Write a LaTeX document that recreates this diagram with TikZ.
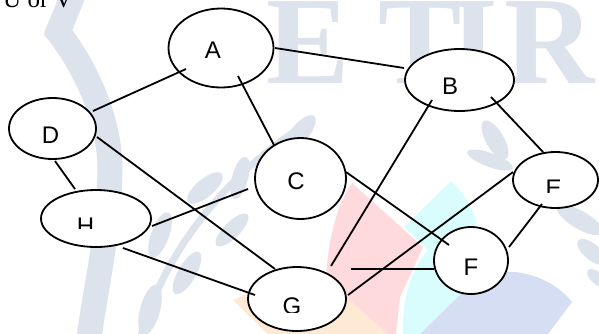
\documentclass[tikz,border=0pt]{standalone}
\usepackage{fontspec}
\setmainfont{Liberation Sans}
\newfontfamily\serifwm{Liberation Serif}
\usetikzlibrary{shapes.geometric,calc}
\definecolor{wm}{HTML}{DDE3EC}
\definecolor{pinkwm}{HTML}{FFDADD}
\definecolor{cyanwm}{HTML}{D9FDFD}
\definecolor{lavwm}{HTML}{D6DEF4}
\definecolor{peachwm}{HTML}{FDE9D4}
\begin{document}
\begin{tikzpicture}[x=1pt,y=-1pt,
  vtx/.style={ellipse,draw=black,fill=white,line width=1.8pt,inner sep=0pt},
  edge/.style={line width=1.8pt,black},
  lbl/.style={anchor=base,inner sep=0pt,font=\fontsize{24}{24}\selectfont},
  leaf/.style={fill=wm,draw=none},
  wmletter/.style={anchor=base,inner sep=0pt,text=wm,font=\serifwm\bfseries\fontsize{125}{125}\selectfont}]
\useasboundingbox (0,0) rectangle (599,333);
\clip (0,0) rectangle (599,333);
\fill[white] (0,0) rectangle (599,333);
% watermark: letters
\node[wmletter] (wE) at (308,83) {E};
\node[wmletter] (wT) at (420,83) {T};
\node[wmletter] (wI) at (474,83) {I};
\node[wmletter] (wR) at (550,83) {R};
% watermark: band
\draw[wm,line width=25pt] (75,-10) -- (58,32) .. controls (80,60) and (108,110) .. (110,165) .. controls (110,230) and (95,290) .. (88,345);
% watermark: leaves
\draw[wm,line width=7pt] (140,340) .. controls (160,260) and (220,180) .. (300,128);
\fill[leaf,rotate around={50:(300,133)}] (300,133) ellipse [x radius=22pt,y radius=9pt];
\fill[leaf,rotate around={75:(240,178)}] (240,178) ellipse [x radius=22pt,y radius=8pt];
\fill[leaf,rotate around={40:(205,188)}] (205,188) ellipse [x radius=22pt,y radius=9pt];
\fill[leaf,rotate around={70:(160,235)}] (160,235) ellipse [x radius=24pt,y radius=9pt];
\fill[leaf,rotate around={45:(232,230)}] (232,230) ellipse [x radius=22pt,y radius=8pt];
\fill[leaf,rotate around={60:(187,273)}] (187,273) ellipse [x radius=24pt,y radius=9pt];
\fill[leaf,rotate around={75:(150,310)}] (150,310) ellipse [x radius=26pt,y radius=10pt];
\fill[leaf,rotate around={-60:(495,140)}] (495,140) ellipse [x radius=22pt,y radius=9pt];
\fill[leaf,rotate around={-20:(490,160)}] (490,160) ellipse [x radius=24pt,y radius=7pt];
\fill[leaf,rotate around={-30:(580,220)}] (580,220) ellipse [x radius=26pt,y radius=9pt];
\fill[leaf,rotate around={-40:(592,252)}] (592,252) ellipse [x radius=18pt,y radius=8pt];
\fill[leaf,rotate around={-40:(597,278)}] (597,278) ellipse [x radius=12pt,y radius=6pt];
% watermark: petals
\fill[cyanwm] (404,227) -- (451,181) .. controls (466,195) and (476,212) .. (478,232) -- (482,268) -- (436,334) -- (403,334) .. controls (402,300) and (410,270) .. (428,250) -- cycle;
\fill[pinkwm] (352,183) -- (423,247) -- (400,297) -- (396,334) -- (327,334) .. controls (322,270) and (330,215) .. (352,183) -- cycle;
\fill[lavwm] (420,334) -- (462,293) -- (490,274) .. controls (520,266) and (555,280) .. (572,302) -- (548,334) -- cycle;
\fill[peachwm] (233,300) -- (290,275) -- (337,289) -- (388,334) -- (268,334) -- cycle;
% caption fragment
\node[anchor=base west,inner sep=0pt,font=\serifwm\fontsize{25}{25}\selectfont] (uv) at (3,7.5) {U or V};
% vertices
\node[vtx,minimum width=105pt,minimum height=79pt] (A) at (221,48) {};
\node[vtx,minimum width=109pt,minimum height=62pt] (B) at (459.5,80) {};
\node[vtx,minimum width=91pt,minimum height=81pt] (C) at (300.5,178.5) {};
\node[vtx,minimum width=87pt,minimum height=61pt] (D) at (52.5,128.5) {};
\node[vtx,minimum width=85pt,minimum height=56pt] (E) at (555.5,180) {};
\node[vtx,minimum width=74pt,minimum height=67pt] (F) at (471,260.5) {};
\node[vtx,minimum width=98pt,minimum height=64pt] (G) at (297,299) {};
\node[vtx,minimum width=110pt,minimum height=57pt] (H) at (96,218.5) {};
% labels
\node[lbl] (lA) at (213,58) {A};
\node[lbl] (lC) at (296,189.5) {C};
\node[lbl] (lF) at (471,275) {F};
\begin{scope}\clip (420,60) rectangle (480,93); \node[lbl] (lB) at (450,94.5) {B}; \end{scope}
\begin{scope}\clip (30,110) rectangle (70,142); \node[lbl] (lD) at (50.5,143.5) {D}; \end{scope}
\begin{scope}\clip (65,200) rectangle (105,228); \node[lbl] (lH) at (85.5,234.5) {H}; \end{scope}
\begin{scope}\clip (270,280) rectangle (315,312); \node[lbl] (lG) at (292,314.5) {G}; \end{scope}
\begin{scope}\clip (535,165) rectangle (575,192); \node[lbl] (lE) at (553.5,196.5) {E}; \end{scope}
% edges
\coordinate (gf) at ($(G)+(54,-30)$);
\draw[edge] ($(A)+(-35,21)$) -- ($(D)+(40.5,-17.5)$);
\draw[edge] ($(A)+(54,0)$) -- ($(B)+(-55.5,-12)$);
\draw[edge] ($(A)+(17,28)$) -- ($(C)+(-26.5,-33.5)$);
\draw[edge] ($(D)+(44.5,8.5)$) -- ($(G)+(-22,-30)$);
\draw[edge] ($(D)+(2.5,32.5)$) -- ($(H)+(-21,-29.5)$);
\draw[edge] ($(H)+(56,7.5)$) -- ($(C)+(-52.5,10.5)$);
\draw[edge] ($(H)+(27,29.5)$) -- ($(G)+(-42,-4)$);
\draw[edge] ($(B)+(-27.5,20)$) -- ($(G)+(34,-33)$);
\draw[edge] ($(B)+(31.5,17)$) -- ($(E)+(-12.5,-28)$);
\draw[edge] ($(C)+(45.5,-6.5)$) -- ($(F)+(-22,-15.5)$);
\draw[edge] ($(E)+(-42.5,-8)$) -- ($(G)+(51,-4)$);
\draw[edge] (gf) -- ($(F)+(-37,8.5)$);
\draw[edge] ($(E)+(-13.5,24)$) -- ($(F)+(38,-13.5)$);
\end{tikzpicture}
\end{document}
